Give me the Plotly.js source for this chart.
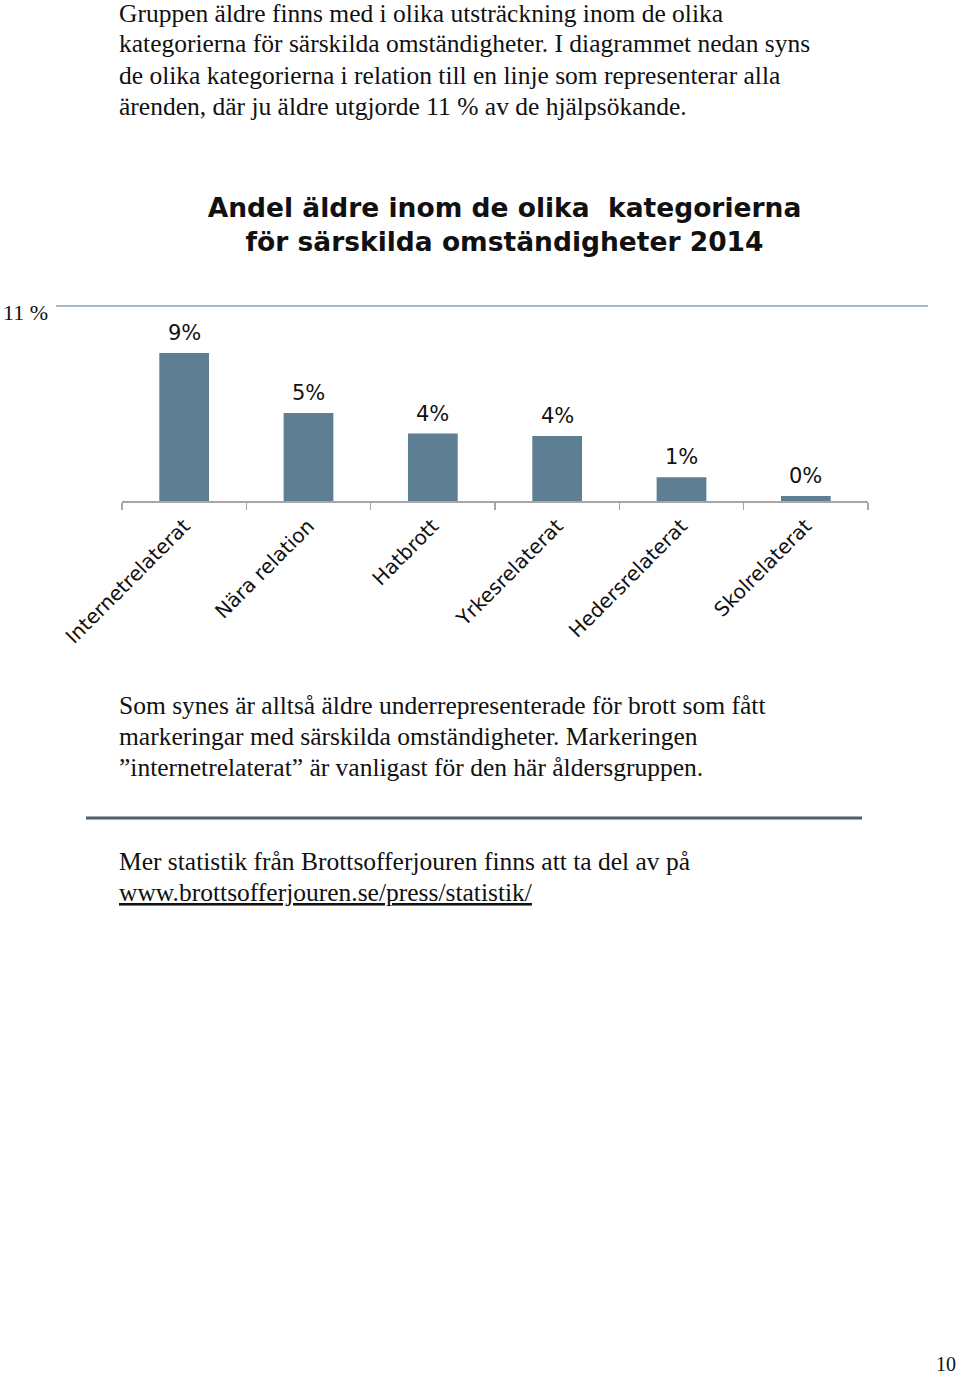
<!DOCTYPE html>
<html>
<head>
<meta charset="utf-8">
<script src="https://cdn.plot.ly/plotly-3.0.1.min.js"></script>
<style>
html,body{margin:0;padding:0;background:#fff;}
#chart{width:960px;height:1379px;}
</style>
</head>
<body>
<div id="chart"></div>
<script>
// ---- data ----
const categories = ["Internetrelaterat", "Nära relation", "Hatbrott", "Yrkesrelaterat", "Hedersrelaterat", "Skolrelaterat"];
const shares = [9.0, 5.35, 4.1, 3.95, 1.45, 0.3];          // percent of cases that involve older people
const shareLabels = ["9%", "5%", "4%", "4%", "1%", "0%"];
const overallShare = 11;                                    // all cases: older people = 11 %
const overallLabel = "11 %";

const titleLines = ["Andel äldre inom de olika  kategorierna", "för särskilda omständigheter 2014"];
const introLines = [
  "Gruppen äldre finns med i olika utsträckning inom de olika",
  "kategorierna för särskilda omständigheter. I diagrammet nedan syns",
  "de olika kategorierna i relation till en linje som representerar alla",
  "ärenden, där ju äldre utgjorde 11 % av de hjälpsökande."
];
const outroLines = [
  "Som synes är alltså äldre underrepresenterade för brott som fått",
  "markeringar med särskilda omständigheter. Markeringen",
  "”internetrelaterat” är vanligast för den här åldersgruppen."
];
const moreLines = [
  "Mer statistik från Brottsofferjouren finns att ta del av på",
  "<span style=\"text-decoration:underline\">www.brottsofferjouren.se/press/statistik/</span>"
];
const pageNumber = "10";

// ---- layout helpers (page pixels -> paper coords) ----
const L = 122, R = 868, TOP = 296, BASE = 501;
const px = x => (x - L) / (R - L);
const py = y => (BASE - y) / (BASE - TOP);

const serif = "Liberation Serif, Times New Roman, serif";
const sans = "DejaVu Sans, Verdana, sans-serif";

const annotations = [];
function textLine(t, x, y, size, anchor) {
  annotations.push({
    text: t, xref: "paper", yref: "paper", x: px(x), y: py(y),
    xanchor: anchor || "left", yanchor: "middle", showarrow: false,
    font: {family: serif, size: size || 25.5, color: "#111"}
  });
}
introLines.forEach((t, i) => textLine(t, 117, 13 + i * 31));
outroLines.forEach((t, i) => textLine(t, 117, 705 + i * 31));
moreLines.forEach((t, i) => textLine(t, 117, 861 + i * 31));
textLine(pageNumber, 946, 1364, 20, "center");
textLine(overallLabel, 1, 312, 22);

// value labels above each bar
categories.forEach((c, i) => {
  annotations.push({
    text: shareLabels[i], xref: "x", yref: "y", x: c, y: shares[i],
    xanchor: "center", yanchor: "bottom", yshift: 6, showarrow: false,
    font: {family: sans, size: 21, color: "#111"}
  });
});

const traces = [
  {
    type: "bar", x: categories, y: shares,
    marker: {color: "#5E7F93"},
    hoverinfo: "x+y", showlegend: false
  },
  {
    type: "scatter", mode: "markers", x: [categories[0]], y: [overallShare],
    yaxis: "y2", marker: {opacity: 0}, hoverinfo: "skip", showlegend: false
  }
];

const layout = {
  width: 960, height: 1379,
  margin: {l: L, r: 960 - R, t: TOP, b: 1379 - BASE, pad: 0},
  paper_bgcolor: "#fff", plot_bgcolor: "#fff",
  bargap: 0.6,
  showlegend: false,
  title: {
    text: "<b>" + titleLines.join("<br>") + "</b>",
    font: {family: sans, size: 26.5, color: "#111"},
    xref: "container", yref: "container",
    x: 504.5 / 960, y: 1 - 217 / 1379, xanchor: "center", yanchor: "middle"
  },
  xaxis: {
    type: "category",
    showline: true, linecolor: "#A6A6A6", linewidth: 1.5,
    ticks: "outside", tickson: "boundaries", ticklen: 7, tickcolor: "#A6A6A6", tickwidth: 1.2,
    tickangle: -45, ticklabelstandoff: 4,
    tickfont: {family: sans, size: 20, color: "#111"},
    showgrid: false, zeroline: false
  },
  yaxis: {
    range: [0, 205 / (148 / 9)],
    visible: false, showgrid: false, zeroline: false
  },
  yaxis2: {
    overlaying: "y", range: [0, 11 * 205 / 195],
    visible: false, showgrid: false, zeroline: false
  },
  shapes: [
    {type: "line", xref: "paper", yref: "y2", x0: px(56), x1: px(928), y0: overallShare, y1: overallShare,
     line: {color: "#8EA2B0", width: 1.5}},
    {type: "line", xref: "paper", yref: "paper", x0: px(86), x1: px(862), y0: py(818), y1: py(818),
     line: {color: "#4F5F6B", width: 3}}
  ],
  annotations: annotations
};

Plotly.newPlot("chart", traces, layout, {staticPlot: true, displayModeBar: false});
</script>
</body>
</html>
